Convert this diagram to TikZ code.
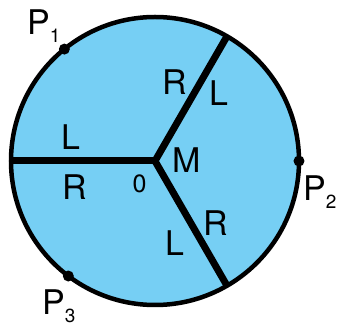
\documentclass[tikz,border=0pt]{standalone}
\usepackage{fontspec}
\setmainfont{TeX Gyre Heros}
\definecolor{disc}{RGB}{118,207,244}
\newcommand\low[1]{\raisebox{-8pt}{\fontsize{19}{19}\selectfont #1}}
\begin{document}
\begin{tikzpicture}[
    x=1pt,y=1pt,
    lbl/.style={font=\fontsize{34}{34}\selectfont,inner sep=0pt},
    dot/.style={circle,fill=black,inner sep=0pt,minimum size=11pt},
    spoke/.style={line width=7pt,line join=miter}
]
\useasboundingbox (-155,-165) rectangle (183,161);
\coordinate (o) at (0,0);
\draw[line width=4.5pt,fill=disc] (o) circle (144);
\coordinate (a) at (60:144);
\coordinate (b) at (180:144);
\coordinate (c) at (-60:144);
\draw[spoke] (a) -- (o) -- (c);
\draw[spoke] (o) -- (b);

\node[dot] (p1) at (129:144) {};
\node[dot] (p2) at (0:144) {};
\node[dot] (p3) at (-127:144) {};

\node[lbl,anchor=base west] (n1) at (-128,126) {P\low{1}};
\node[lbl,anchor=base west] (n2) at (148,-40) {P\low{2}};
\node[lbl,anchor=base west] (n3) at (-113,-154) {P\low{3}};

\node[lbl] (ra) at (20,79) {R};
\node[lbl] (la) at (64,68) {L};
\node[lbl] (lb) at (-84,23.5) {L};
\node[lbl] (rb) at (-80,-26.5) {R};
\node[lbl] (rc) at (61,-62) {R};
\node[lbl] (lc) at (20,-82) {L};
\node[lbl] (m) at (31.5,0.5) {M};
\node[inner sep=0pt,font=\rmfamily\fontsize{25}{25}\selectfont] (zero) at (-15.5,-22.5) {0};
\end{tikzpicture}
\end{document}
